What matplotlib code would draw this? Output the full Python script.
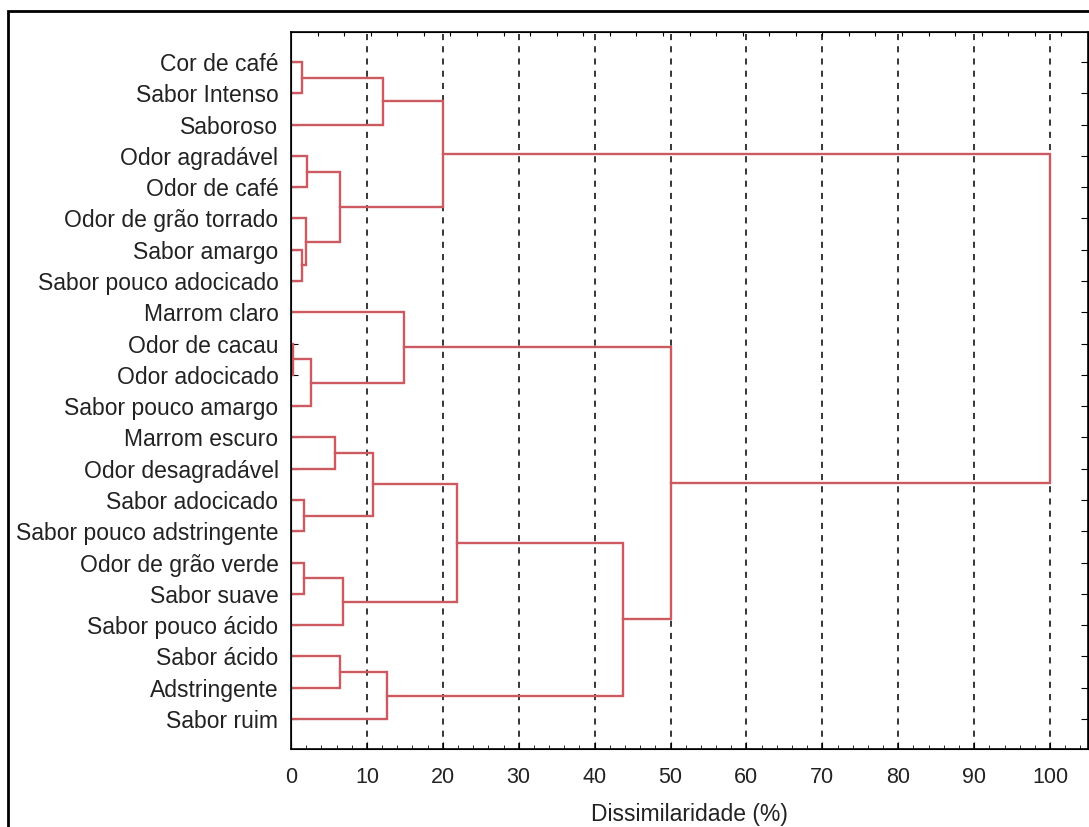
import numpy as np
import matplotlib
matplotlib.use("Agg")
from matplotlib import pyplot as plt
from matplotlib.patches import Rectangle
from matplotlib.ticker import MultipleLocator

plt.rcParams["font.family"] = ["Liberation Sans", "DejaVu Sans"]

# %%
atributos = ["Cor de café", "Sabor Intenso", "Saboroso", "Odor agradável",
             "Odor de café", "Odor de grão torrado", "Sabor amargo",
             "Sabor pouco adocicado", "Marrom claro", "Odor de cacau",
             "Odor adocicado", "Sabor pouco amargo", "Marrom escuro",
             "Odor desagradável", "Sabor adocicado", "Sabor pouco adstringente",
             "Odor de grão verde", "Sabor suave", "Sabor pouco ácido",
             "Sabor ácido", "Adstringente", "Sabor ruim"]

# agrupamentos: (grupo a, grupo b); novos grupos recebem ids 22, 23, ...
grupo_a = [9, 0, 6, 14, 16, 5, 3, 22, 12, 28, 19, 26, 30, 23, 32, 8, 35, 34, 39, 37, 38]
grupo_b = [10, 1, 7, 15, 17, 24, 4, 11, 13, 27, 20, 18, 25, 2, 21, 29, 31, 33, 36, 40, 41]
dissimilaridade = [0.2, 1.4, 1.5, 1.7, 1.7, 2.0, 2.1, 2.6, 5.8, 6.4, 6.5, 6.9,
                   10.8, 12.1, 12.6, 14.9, 20.0, 21.9, 43.7, 50.0, 100.0]

COR = "#cd5a60"

# %%
fig = plt.figure(figsize=(10.89, 8.27), dpi=100)
ax = fig.add_axes([291 / 1089, 1 - 749 / 827, 797 / 1089, 717 / 827])

n = len(atributos)
pos = {i: float(i) for i in range(n)}
alt = {i: 0.0 for i in range(n)}
for k, (a, b, h) in enumerate(zip(grupo_a, grupo_b, dissimilaridade)):
    ax.plot([alt[a], h, h, alt[b]], [pos[a], pos[a], pos[b], pos[b]],
            color=COR, lw=1.7, solid_joinstyle="miter", zorder=3)
    pos[n + k] = (pos[a] + pos[b]) / 2
    alt[n + k] = h

ax.set_xlim(0, 105)
ax.set_ylim(n - 1 + 0.96, -0.96)
ax.set_yticks(range(n))
ax.set_yticklabels(atributos, fontsize=16.5, color="#222222")
ax.xaxis.set_major_locator(MultipleLocator(10))
ax.xaxis.set_minor_locator(MultipleLocator(2))
ax.set_xticks(np.arange(0, 101, 10))
ax.tick_params(axis="x", which="major", direction="in", length=5, labelsize=15.5,
               labelcolor="#222222", pad=13)
ax.tick_params(axis="x", which="minor", direction="in", length=3)
ax.tick_params(axis="y", direction="in", length=5, pad=9, right=True)
for g in np.arange(10, 101, 10):
    ax.axvline(g, color="black", lw=1.1, ls=(0, (4, 4)), zorder=1)
ax.set_xlabel("Dissimilaridade (%)", fontsize=16.5, color="#222222", labelpad=11)
for s in ax.spines.values():
    s.set_linewidth(1.2)

# escala superior
topo = ax.twiny()
topo.set_xlim(0, 105)
topo.set_xticks(np.arange(3.5, 105, 3.5))
topo.tick_params(axis="x", direction="in", length=3, labeltop=False)

# moldura externa
fig.add_artist(Rectangle((8 / 1089, -0.1), 1.2, 1.1 - 11 / 827, transform=fig.transFigure,
                         fill=False, lw=2, edgecolor="black"))

plt.savefig("out.png", dpi=100)
